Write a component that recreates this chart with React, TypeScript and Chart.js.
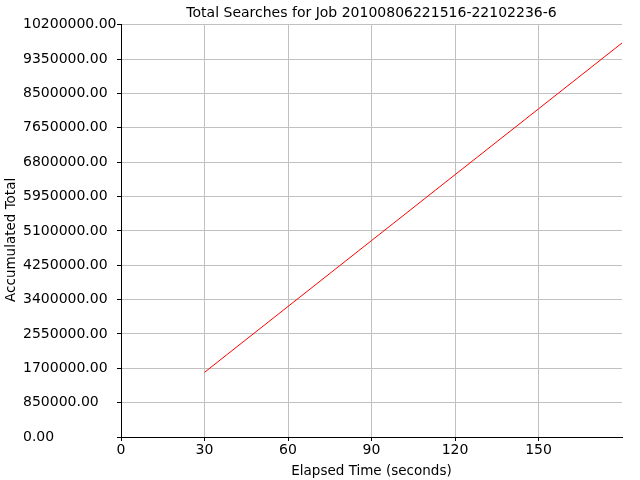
import React, { useEffect, useRef } from "react"
import { Chart, registerables, type Plugin } from "chart.js"

Chart.register(...registerables)

// data
const chartTitle = "Total Searches for Job 20100806221516-22102236-6"
const xAxisTitle = "Elapsed Time (seconds)"
const yAxisTitle = "Accumulated Total"
const elapsedSeconds = [30, 60, 90, 120, 150, 180]
const accumulatedTotals = [1600000, 3230000, 4860000, 6490000, 8120000, 9750000]
const xTickStep = 30
const xMax = 180
const yTickStep = 850000
const yMax = 10200000

const FONT = "'DejaVu Sans', sans-serif"
const GRID = "#c0c0c0"

// y axis title drawn by hand so the tick labels can sit left-aligned next to it
const yTitlePlugin: Plugin<"line"> = {
  id: "yTitle",
  afterDraw(chart) {
    const { ctx, chartArea } = chart
    ctx.save()
    ctx.translate(11, (chartArea.top + chartArea.bottom) / 2 + 9)
    ctx.rotate(-Math.PI / 2)
    ctx.font = `13.5px ${FONT}`
    ctx.fillStyle = "#000"
    ctx.textAlign = "center"
    ctx.textBaseline = "middle"
    ctx.fillText(yAxisTitle, 0, 0)
    ctx.restore()
  },
}

const SearchTotalsChart: React.FC = () => {
  const canvasRef = useRef<HTMLCanvasElement>(null)
  const chartRef = useRef<Chart | null>(null)

  useEffect(() => {
    if (!canvasRef.current) return
    if (chartRef.current) chartRef.current.destroy()

    chartRef.current = new Chart(canvasRef.current, {
      type: "line",
      data: {
        datasets: [
          {
            data: elapsedSeconds.map((x, i) => ({ x, y: accumulatedTotals[i] })),
            borderColor: "#ff0000",
            borderWidth: 1,
            pointRadius: 0,
            tension: 0,
          },
        ],
      },
      options: {
        animation: false,
        responsive: false,
        layout: { padding: { top: 0, right: 18, bottom: 0, left: 23 } },
        plugins: {
          legend: { display: false },
          tooltip: { enabled: false },
          title: {
            display: true,
            text: chartTitle,
            color: "#000",
            fullSize: false,
            font: { family: FONT, size: 14, weight: "normal" },
            padding: { top: 5, bottom: 3 },
          },
        },
        scales: {
          x: {
            type: "linear",
            min: 0,
            max: xMax,
            afterBuildTicks: (scale) => {
              scale.ticks = scale.ticks.filter((t) => t.value < xMax)
            },
            afterFit: (scale) => {
              scale.height = 43
            },
            ticks: {
              stepSize: xTickStep,
              color: "#000",
              padding: 1,
              maxRotation: 0,
              font: { family: FONT, size: 14 },
            },
            grid: { color: GRID, tickColor: "#000", tickLength: 4 },
            border: { color: "#000", width: 1 },
            title: {
              display: true,
              text: xAxisTitle,
              color: "#000",
              font: { family: FONT, size: 13.5 },
              padding: { top: 4, bottom: 0 },
            },
          },
          y: {
            type: "linear",
            min: 0,
            max: yMax,
            afterFit: (scale) => {
              scale.width = 98
            },
            ticks: {
              stepSize: yTickStep,
              color: "#000",
              crossAlign: "far",
              padding: 1,
              font: { family: FONT, size: 14 },
              callback: (v) => Number(v).toFixed(2),
            },
            grid: { color: GRID, tickColor: "#000", tickLength: 4 },
            border: { color: "#000", width: 1 },
          },
        },
      },
      plugins: [yTitlePlugin],
    })

    return () => {
      if (chartRef.current) {
        chartRef.current.destroy()
        chartRef.current = null
      }
    }
  }, [])

  return (
    <div style={{ position: "absolute", left: 0, top: 0, width: 640, height: 480, background: "#fff" }}>
      <canvas ref={canvasRef} width={640} height={480} />
    </div>
  )
}

export default function App() {
  return <SearchTotalsChart />
}
